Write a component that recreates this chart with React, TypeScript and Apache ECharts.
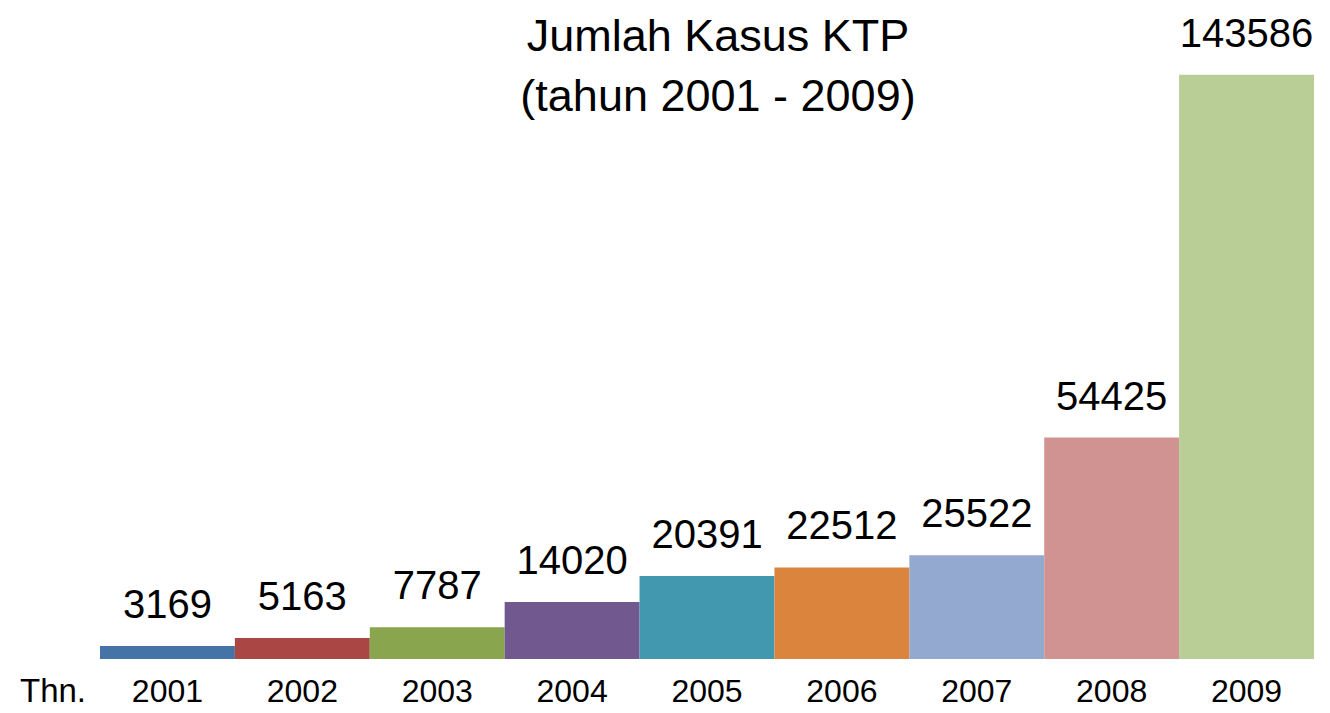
import React, { useEffect, useRef } from "react";
import * as echarts from "echarts";

const years = ["2001", "2002", "2003", "2004", "2005", "2006", "2007", "2008", "2009"];
const cases = [3169, 5163, 7787, 14020, 20391, 22512, 25522, 54425, 143586];
const colors = ["#4572A7", "#AA4643", "#89A54E", "#71588F", "#4198AF", "#DB843D", "#93A9CF", "#D19392", "#B9CD96"];
const titleLines = ["Jumlah Kasus KTP", "(tahun 2001 - 2009)"];
const axisPrefix = "Thn.";

export default function App() {
  const ref = useRef<HTMLDivElement>(null);
  useEffect(() => {
    if (!ref.current) return;
    const chart = echarts.init(ref.current, undefined, { renderer: "svg" });
    const font = "'Liberation Sans', Arial, sans-serif";
    chart.setOption({
      animation: false,
      backgroundColor: "#ffffff",
      title: {
        text: titleLines.join("\n"),
        left: 713,
        top: 0,
        textAlign: "center",
        textStyle: { fontFamily: font, fontSize: 45, fontWeight: "normal", color: "#000", lineHeight: 60 },
      },
      grid: { left: 100, right: 16, top: 8, bottom: 54, containLabel: false },
      xAxis: {
        type: "category",
        data: years,
        axisLine: { show: false },
        axisTick: { show: false },
        axisLabel: { fontFamily: font, fontSize: 32, color: "#000", margin: 16 },
      },
      yAxis: {
        type: "value",
        min: 0,
        max: 160000,
        show: false,
        splitLine: { show: false },
      },
      graphic: [
        {
          type: "text",
          left: 20,
          top: 674,
          style: { text: axisPrefix, font: `33px ${font}`, fill: "#000" },
        },
      ],
      series: [
        {
          type: "bar",
          barWidth: "100%",
          barCategoryGap: 0,
          data: cases.map((v, i) => ({ value: v, itemStyle: { color: colors[i] } })),
          label: {
            show: true,
            position: "top",
            distance: 22,
            fontFamily: font,
            fontSize: 40,
            color: "#000",
          },
        },
      ],
    });
    return () => chart.dispose();
  }, []);
  return <div ref={ref} style={{ position: "fixed", left: 0, top: 0, width: 1330, height: 713 }} />;
}
